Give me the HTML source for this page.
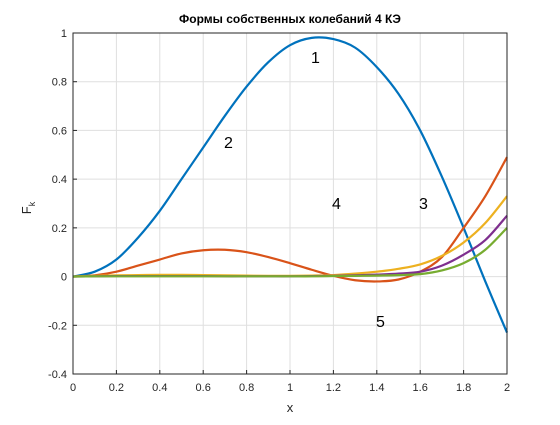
<!DOCTYPE html>
<html><head><meta charset="utf-8"><style>
body{margin:0;background:#fff;width:560px;height:420px;overflow:hidden}
text{font-family:"Liberation Sans","DejaVu Sans",sans-serif}
</style></head><body>
<svg id="c" width="560" height="420" xmlns="http://www.w3.org/2000/svg">
<rect width="560" height="420" fill="#fff"/>
<g id="grid"></g>
<g id="ticks"></g>
<g id="series"></g>
<rect x="73" y="33" width="434" height="341" fill="none" stroke="#262626" stroke-width="1"/>
<text x="290" y="23" text-anchor="middle" font-size="12" font-weight="bold" fill="#000">Формы собственных колебаний 4 КЭ</text>
<text x="290" y="412" text-anchor="middle" font-size="13" fill="#262626">x</text>
<text transform="translate(31,208) rotate(-90)" text-anchor="middle" font-size="13" fill="#262626">F<tspan font-size="9" dy="4">k</tspan></text>
<g font-size="16" fill="#000">
<text x="311" y="63">1</text>
<text x="224" y="148">2</text>
<text x="419" y="209">3</text>
<text x="332" y="209">4</text>
<text x="376" y="327">5</text>
</g>
</svg>
<script>
const xs=[0,0.1,0.2,0.3,0.4,0.5,0.6,0.7,0.8,0.9,1.0,1.1,1.2,1.3,1.4,1.5,1.6,1.7,1.8,1.9,2.0];
const mode1=[0,0.02,0.07,0.16,0.27,0.40,0.53,0.66,0.78,0.88,0.95,0.98,0.975,0.94,0.86,0.75,0.60,0.41,0.20,-0.02,-0.23];
const mode2=[0,0.005,0.02,0.045,0.07,0.095,0.108,0.11,0.10,0.08,0.055,0.028,0.003,-0.015,-0.02,-0.012,0.02,0.08,0.20,0.33,0.49];
const mode3=[0,0.003,0.005,0.006,0.007,0.007,0.006,0.005,0.004,0.003,0.003,0.004,0.006,0.012,0.02,0.032,0.05,0.085,0.14,0.22,0.33];
const mode4=[0,0.001,0.002,0.002,0.002,0.002,0.002,0.001,0.001,0.001,0.001,0.002,0.003,0.005,0.008,0.012,0.02,0.045,0.09,0.15,0.25];
const mode5=[0,0.001,0.001,0.001,0.001,0.001,0.001,0.001,0.001,0.001,0.001,0.001,0.002,0.003,0.004,0.006,0.01,0.025,0.055,0.11,0.20];
const xTicks=[0,0.2,0.4,0.6,0.8,1,1.2,1.4,1.6,1.8,2];
const yTicks=[-0.4,-0.2,0,0.2,0.4,0.6,0.8,1];
const colors=['#0072BD','#D95319','#EDB120','#7E2F8E','#77AC30'];
const NS='http://www.w3.org/2000/svg';
const X=v=>73+v/2*434, Y=v=>33+(1-v)/1.4*341;
function mk(t,a,p){const e=document.createElementNS(NS,t);for(const k in a)e.setAttribute(k,a[k]);p.appendChild(e);return e;}
const g=document.getElementById('grid'),tk=document.getElementById('ticks'),sg=document.getElementById('series');
xTicks.forEach(v=>{
 const l=mk('line',{x1:X(v),x2:X(v),y1:33,y2:374,stroke:'#dfdfdf'},g);
 
 
 mk('line',{x1:X(v),x2:X(v),y1:374,y2:370,stroke:'#262626'},tk);
 const t=mk('text',{x:X(v),y:391,'text-anchor':'middle','font-size':'11',fill:'#262626'},tk);
 t.textContent=String(v);
 
 
});
yTicks.forEach(v=>{
 const l=mk('line',{x1:73,x2:507,y1:Y(v),y2:Y(v),stroke:'#dfdfdf'},g);
 
 
 mk('line',{x1:73,x2:77,y1:Y(v),y2:Y(v),stroke:'#262626'},tk);
 const t=mk('text',{x:67,y:Y(v)+4,'text-anchor':'end','font-size':'11',fill:'#262626'},tk);
 t.textContent=String(v);
 
 
});
function path(ys){
 const p=xs.map((x,i)=>[X(x),Y(ys[i])]);
 let d='M'+p[0][0]+','+p[0][1];
 for(let i=0;i<p.length-1;i++){
  const p0=p[Math.max(0,i-1)],p1=p[i],p2=p[i+1],p3=p[Math.min(p.length-1,i+2)];
  d+=' C'+(p1[0]+(p2[0]-p0[0])/6)+','+(p1[1]+(p2[1]-p0[1])/6)+' '+(p2[0]-(p3[0]-p1[0])/6)+','+(p2[1]-(p3[1]-p1[1])/6)+' '+p2[0]+','+p2[1];
 }
 return d;
}
[mode1,mode2,mode3,mode4,mode5].forEach((ys,i)=>{
 const e=mk('path',{d:path(ys),fill:'none',stroke:colors[i],'stroke-width':'2.2'},sg);
 
 
});
</script>
</body></html>
